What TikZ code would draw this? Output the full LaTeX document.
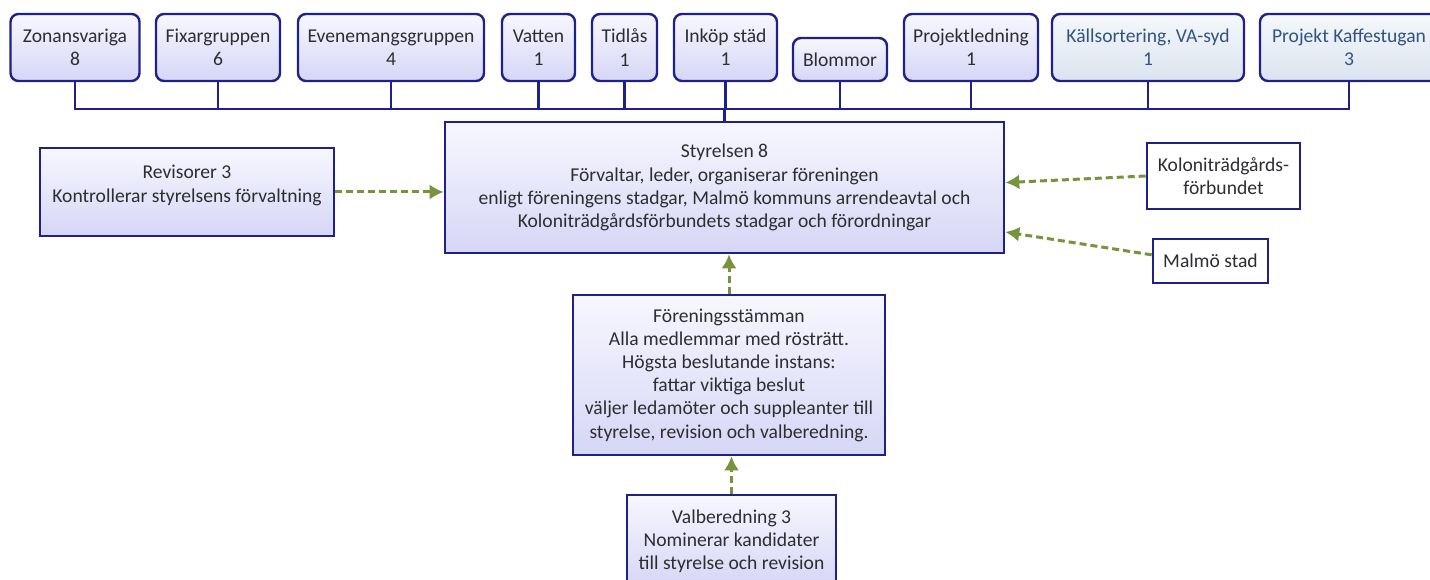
\documentclass[tikz,border=0pt]{standalone}
\usepackage{fontspec}
\setmainfont{Carlito}
\usetikzlibrary{arrows.meta}
\definecolor{bordure}{RGB}{32,32,140}
\definecolor{vert}{RGB}{119,147,60}
\definecolor{lavhaut}{RGB}{247,247,255}
\definecolor{lavbas}{RGB}{214,214,246}
\definecolor{bleuhaut}{RGB}{245,248,251}
\definecolor{bleubas}{RGB}{218,228,240}
\definecolor{texte}{RGB}{45,45,50}
\definecolor{textebleu}{RGB}{52,82,130}
\begin{document}
\begin{tikzpicture}[x=1pt,y=-1pt]
% Styles
\tikzstyle{cadre}=[draw=bordure,line width=2.6pt,text=texte,align=center,inner sep=0pt,font=\fontsize{19.6}{23.2}\selectfont]
\tikzstyle{boite}=[cadre,top color=lavhaut,bottom color=lavbas]
\tikzstyle{groupe}=[boite,rounded corners=8pt,line width=2.4pt]
\tikzstyle{projet}=[groupe,top color=bleuhaut,bottom color=bleubas,text=textebleu]
\tikzstyle{externe}=[cadre,fill=white]
\tikzstyle{liaison}=[draw=bordure,line width=2.6pt,line cap=rect]
\tikzstyle{fleche}=[draw=vert,line width=3pt,dash pattern=on 7pt off 4pt,-{Latex[length=14pt,width=15pt]}]
% Dimensions
\def\HtG{67pt}
\def\YG{47.5}
\useasboundingbox (0,0) rectangle (1430,580);
\clip (0,0) rectangle (1430,580);
% Groupes de travail
\node[groupe,minimum width=129pt,minimum height=\HtG] (zon) at (75,\YG) {Zonansvariga\\8};
\node[groupe,minimum width=124pt,minimum height=\HtG] (fix) at (218,\YG) {Fixargruppen\\6};
\node[groupe,minimum width=186pt,minimum height=\HtG] (even) at (391,\YG) {Evenemangsgruppen\\4};
\node[groupe,minimum width=73pt,minimum height=\HtG] (vatten) at (538.5,\YG) {Vatten\\1};
\node[groupe,minimum width=65pt,minimum height=\HtG] (tidlas) at (624.5,\YG) {Tidlås\\1};
\node[groupe,minimum width=103pt,minimum height=\HtG] (inkop) at (725.5,\YG) {Inköp städ\\1};
\node[groupe,minimum width=94pt,minimum height=43pt] (blommor) at (840,59.5) {Blommor};
\node[groupe,minimum width=134pt,minimum height=\HtG] (projled) at (971,\YG) {Projektledning\\1};
\node[projet,minimum width=192pt,minimum height=\HtG] (kallsort) at (1148,\YG) {Källsortering, VA-syd\\1};
\node[projet,minimum width=178pt,minimum height=\HtG] (kaffe) at (1349,\YG) {Projekt Kaffestugan\\3};
% Styrelsen et les autres organes
\node[boite,minimum width=559pt,minimum height=131pt] (sty) at (724.5,187.5) {Styrelsen 8\\Förvaltar, leder, organiserar föreningen\\enligt föreningens stadgar, Malmö kommuns arrendeavtal och\\Koloniträdgårdsförbundets stadgar och förordningar};
\node[boite,minimum width=294pt,minimum height=88pt] (rev) at (187,192) {\parbox[c][53pt][t]{290pt}{\centering Revisorer 3\\Kontrollerar styrelsens förvaltning}};
\node[externe,minimum width=153pt,minimum height=66pt] (kolon) at (1223.5,176) {Koloniträdgårds-\\förbundet};
\node[externe,minimum width=115pt,minimum height=44pt] (malmo) at (1210.5,261) {Malmö stad};
\node[boite,minimum width=312pt,minimum height=160pt] (fore) at (729,375) {Föreningsstämman\\Alla medlemmar med rösträtt.\\Högsta beslutande instans:\\fattar viktiga beslut\\väljer ledamöter och suppleanter till\\styrelse, revision och valberedning.};
\node[boite,minimum width=209pt,minimum height=92pt] (val) at (731.5,541) {Valberedning 3\\Nominerar kandidater\\till styrelse och revision};
% Barre des groupes
\coordinate (barre) at (0,109);
\foreach \g in {zon,fix,even,vatten,tidlas,inkop,blommor,projled,kallsort,kaffe}
  \draw[liaison] (\g.south) -- (\g.south |- barre);
\draw[liaison] (zon.south |- barre) -- (kaffe.south |- barre);
\draw[liaison] (sty.north) -- (sty.north |- barre);
% Flèches
\draw[fleche] (rev.east) -- (sty.west |- rev.east);
\draw[fleche] (kolon.west) -- (sty.1);
\draw[fleche] (malmo.174) -- (sty.-9);
\draw[fleche] (fore.north) -- (fore.north |- sty.south);
\draw[fleche] (val.north) -- (val.north |- fore.south);
\end{tikzpicture}
\end{document}
